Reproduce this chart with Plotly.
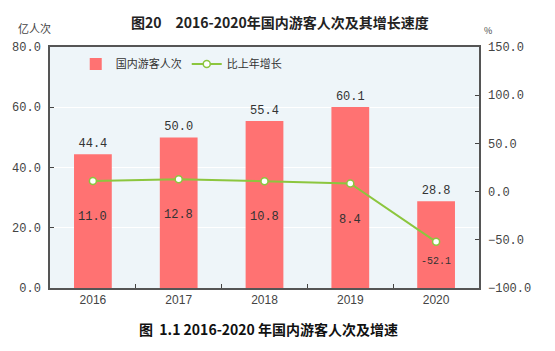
import plotly.graph_objects as go

years = ["2016", "2017", "2018", "2019", "2020"]
visitors = [44.4, 50.0, 55.4, 60.1, 28.8]
growth = [11.0, 12.8, 10.8, 8.4, -52.1]
growth_label_shift = [-36, -36, -36, -36, -20]

mono = "Liberation Mono, DejaVu Sans Mono, monospace"
cjk = "Noto Sans CJK SC, sans-serif"

fig = go.Figure()
fig.add_trace(go.Bar(
    x=years, y=visitors, name="国内游客人次",
    marker=dict(color="#FF7272", line=dict(width=0)),
    width=0.44,
    text=[f"{v:.1f}" for v in visitors], textposition="outside",
    textfont=dict(family=mono, size=12, color="#333333"),
    cliponaxis=False,
))
fig.add_trace(go.Scatter(
    x=years, y=growth, name="比上年增长", yaxis="y2",
    mode="lines+markers",
    line=dict(color="#8CC63E", width=2),
    marker=dict(color="white", size=7, line=dict(color="#8CC63E", width=1.5)),
))
for i, (g, s) in enumerate(zip(growth, growth_label_shift)):
    fig.add_annotation(
        x=i, y=g, yref="y2", text=f"{g:.1f}", showarrow=False,
        yshift=s, font=dict(family=mono, size=12 if s < -30 else 10, color="#333333"),
    )

fig.update_layout(
    width=555, height=351,
    margin=dict(l=50, r=76, t=47, b=63),
    paper_bgcolor="white", plot_bgcolor="#EEF5F9",
    showlegend=True,
    legend=dict(orientation="h", x=0.06, y=0.99, xanchor="left", yanchor="top",
                bgcolor="rgba(0,0,0,0)", font=dict(family=cjk, size=11, color="#333333"),
                itemwidth=30, tracegroupgap=0),
    xaxis=dict(type="category", range=[-0.5, 4.5], tickson="boundaries", ticks="inside", ticklen=4,
               tickcolor="#444444", showline=True, linecolor="#555555", linewidth=1.5,
               mirror=True, showgrid=False,
               tickfont=dict(family="Liberation Sans, sans-serif", size=12, color="#444444")),
    yaxis=dict(range=[0, 80], dtick=20, tickformat=".1f", ticks="inside", ticklen=4,
               tickcolor="#444444", showline=True, linecolor="#555555", linewidth=1.5,
               mirror=True, gridcolor="white", gridwidth=1, zeroline=False,
               ticklabelstandoff=5,
               tickfont=dict(family=mono, size=12, color="#444444")),
    yaxis2=dict(range=[-100, 150], dtick=50, tickformat=".1f", overlaying="y", side="right",
                ticks="inside", ticklen=4, tickcolor="#444444", showgrid=False,
                zeroline=False, showline=False, ticklabelstandoff=8,
                tickfont=dict(family=mono, size=12, color="#444444")),
)

fig.add_annotation(xref="paper", yref="paper", x=0.535, y=1, yshift=25, xanchor="center",
                   yanchor="middle", showarrow=False,
                   text="<b>图20　2016-2020年国内游客人次及其增长速度</b>",
                   font=dict(family=cjk, size=14, color="#222222"))
fig.add_annotation(xref="paper", yref="paper", x=-0.035, y=1, yshift=19, xanchor="center",
                   yanchor="middle", showarrow=False, text="亿人次",
                   font=dict(family=cjk, size=11, color="#444444"))
fig.add_annotation(xref="paper", yref="paper", x=1.02, y=1, yshift=17, xanchor="center",
                   yanchor="middle", showarrow=False, text="%",
                   font=dict(family=cjk, size=9, color="#444444"))
fig.add_annotation(xref="paper", yref="paper", x=0.51, y=0, yshift=-41, xanchor="center",
                   yanchor="middle", showarrow=False,
                   text="<b>图  1.1 2016-2020 年国内游客人次及增速</b>",
                   font=dict(family=cjk, size=14, color="#111111"))

fig.write_html("out.html")
